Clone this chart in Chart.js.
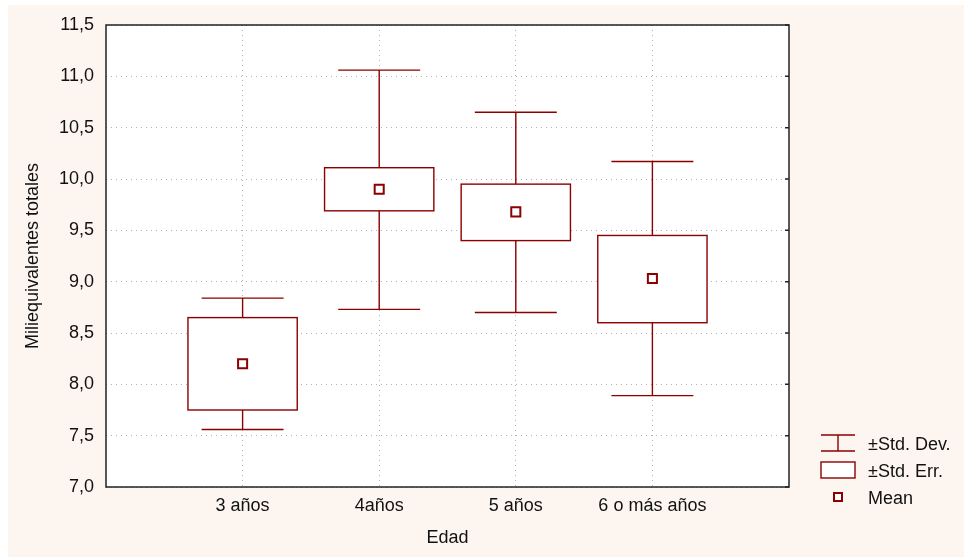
<!DOCTYPE html>
<html>
<head>
<meta charset="utf-8">
<script src="https://cdn.jsdelivr.net/npm/chart.js@4/dist/chart.umd.min.js"></script>
<style>
  html, body { margin: 0; padding: 0; background: #ffffff; }
  #wrap { position: absolute; left: 8px; top: 5px; width: 956px; height: 552px; background: #fdf6f0; }
</style>
</head>
<body>
<div id="wrap"><canvas id="mainChart"></canvas></div>
<script>
// categories on x (placed at 1..4 on a linear axis)
var categories = ['3 años', '4años', '5 años', '6 o más años'];
// mean and +-std. err / +-std. dev. bounds
var means  = [8.20, 9.90, 9.68, 9.03];
var seLow  = [7.75, 9.69, 9.40, 8.60];
var seHigh = [8.65, 10.11, 9.95, 9.45];
var sdLow  = [7.56, 8.73, 8.70, 7.89];
var sdHigh = [8.84, 11.06, 10.65, 10.17];
var yTicks = [7.0, 7.5, 8.0, 8.5, 9.0, 9.5, 10.0, 10.5, 11.0, 11.5];

var red = '#8b0000';
var fontFam = '"Liberation Sans", Arial, sans-serif';

Chart.defaults.font.family = fontFam;
Chart.defaults.font.size = 18;
Chart.defaults.color = '#111';

// boxes + whiskers, drawn through the scales
var boxPlugin = {
    id: 'boxes',
    beforeDraw: function (chart) {
        var a = chart.chartArea, ctx = chart.ctx;
        ctx.save();
        ctx.fillStyle = '#ffffff';
        ctx.fillRect(a.left, a.top, a.right - a.left, a.bottom - a.top);
        ctx.restore();
    },
    beforeDatasetsDraw: function (chart) {
        var ctx = chart.ctx, xs = chart.scales.x, ys = chart.scales.y;
        ctx.save();
        ctx.strokeStyle = red;
        ctx.lineWidth = 1.4;
        for (var i = 0; i < categories.length; i++) {
            var cx = xs.getPixelForValue(i + 1);
            var capL = xs.getPixelForValue(i + 1 - 0.3), capR = xs.getPixelForValue(i + 1 + 0.3);
            var bL = xs.getPixelForValue(i + 1 - 0.4), bR = xs.getPixelForValue(i + 1 + 0.4);
            var top = ys.getPixelForValue(sdHigh[i]), bot = ys.getPixelForValue(sdLow[i]);
            ctx.beginPath();
            ctx.moveTo(cx, top); ctx.lineTo(cx, bot);
            ctx.moveTo(capL, top); ctx.lineTo(capR, top);
            ctx.moveTo(capL, bot); ctx.lineTo(capR, bot);
            ctx.stroke();
            var bt = ys.getPixelForValue(seHigh[i]), bb = ys.getPixelForValue(seLow[i]);
            ctx.fillStyle = '#ffffff';
            ctx.fillRect(bL, bt, bR - bL, bb - bt);
            ctx.strokeRect(bL, bt, bR - bL, bb - bt);
        }
        ctx.restore();
    },
    afterDraw: function (chart) {
        var a = chart.chartArea, ctx = chart.ctx, ys = chart.scales.y;
        ctx.save();
        // frame
        ctx.strokeStyle = '#222';
        ctx.lineWidth = 1.5;
        ctx.strokeRect(a.left, a.top, a.right - a.left, a.bottom - a.top);
        // small ticks on right border
        ctx.beginPath();
        yTicks.forEach(function (v) {
            var y = ys.getPixelForValue(v);
            ctx.moveTo(a.right - 4, y); ctx.lineTo(a.right, y);
        });
        ctx.stroke();

        // legend
        var lx = a.right + 32, tx = a.right + 79;
        ctx.strokeStyle = red;
        ctx.lineWidth = 1.4;
        ctx.beginPath();
        ctx.moveTo(lx, 430); ctx.lineTo(lx + 34, 430);
        ctx.moveTo(lx + 17, 430); ctx.lineTo(lx + 17, 446);
        ctx.moveTo(lx, 446); ctx.lineTo(lx + 34, 446);
        ctx.stroke();
        ctx.fillStyle = '#ffffff';
        ctx.fillRect(lx, 457, 34, 16);
        ctx.strokeRect(lx, 457, 34, 16);
        ctx.lineWidth = 2;
        ctx.fillRect(lx + 13, 488, 8, 8);
        ctx.strokeRect(lx + 13, 488, 8, 8);
        ctx.fillStyle = '#111';
        ctx.font = '18px ' + fontFam;
        ctx.textBaseline = 'middle';
        ctx.fillText('±Std. Dev.', tx, 440);
        ctx.fillText('±Std. Err.', tx, 467);
        ctx.fillText('Mean', tx, 494);
        ctx.restore();
    }
};

var points = [];
for (var i = 0; i < means.length; i++) {
    points.push({x: i + 1, y: means[i]});
}

var ctx = document.getElementById('mainChart').getContext('2d');
var mainChart = new Chart(ctx, {
    type: 'scatter',
    data: {
        datasets: [{
            label: 'Mean',
            data: points,
            pointStyle: 'rect',
            pointRadius: 6.4,
            pointHoverRadius: 6.4,
            borderWidth: 2,
            borderColor: red,
            backgroundColor: '#ffffff'
        }]
    },
    options: {
        responsive: true,
        maintainAspectRatio: false,
        animation: false,
        layout: { padding: { top: 20, right: 175, left: 0, bottom: 0 } },
        plugins: {
            legend: { display: false },
            tooltip: { enabled: false }
        },
        scales: {
            x: {
                type: 'linear',
                min: 0,
                max: 5,
                afterFit: function (s) { s.height = 70; },
                afterBuildTicks: function (s) {
                    s.ticks = [0, 1, 2, 3, 4, 5].map(function (v) { return {value: v}; });
                },
                ticks: {
                    padding: 8,
                    callback: function (v) { return categories[v - 1] || ''; },
                    font: { size: 18 }
                },
                grid: {
                    drawTicks: false,
                    color: function (c) {
                        return (c.tick && c.tick.value > 0 && c.tick.value < 5) ? '#b0b0b0' : 'rgba(0,0,0,0)';
                    },
                    lineWidth: 1
                },
                border: { display: false, dash: [1, 4] },
                title: {
                    display: true,
                    text: 'Edad',
                    padding: { top: 0, bottom: 8 },
                    font: { size: 18 }
                }
            },
            y: {
                min: 7,
                max: 11.5,
                afterFit: function (s) {
                    s.width = 98;
                    s.paddingTop = 0;
                    s.paddingBottom = 0;
                },
                afterBuildTicks: function (s) {
                    s.ticks = yTicks.map(function (v) { return {value: v}; });
                },
                ticks: {
                    padding: 12,
                    callback: function (v) { return v.toFixed(1).replace('.', ','); },
                    font: { size: 18 }
                },
                grid: {
                    drawTicks: false,
                    color: '#b0b0b0',
                    lineWidth: 1
                },
                border: { display: false, dash: [1, 4] },
                title: {
                    display: true,
                    text: 'Miliequivalentes totales',
                    padding: { top: 14, bottom: 0 },
                    font: { size: 18 }
                }
            }
        }
    },
    plugins: [boxPlugin]
});
</script>
</body>
</html>
